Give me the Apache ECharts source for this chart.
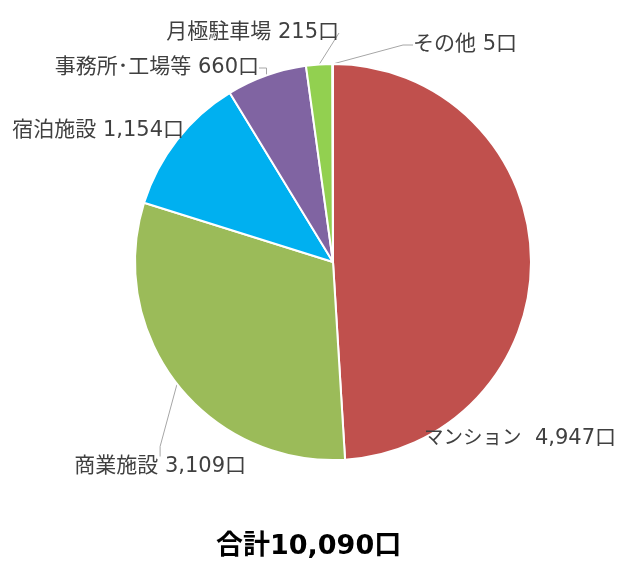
<!DOCTYPE html>
<html><head><meta charset="utf-8">
<script src="https://cdn.jsdelivr.net/npm/echarts@6/dist/echarts.min.js"></script>
<style>html,body{margin:0;padding:0;background:#fff}#c{width:628px;height:566px}</style>
</head><body><div id="c"></div>
<script>
const categories = ['マンション', '商業施設', '宿泊施設', '事務所・工場等', '月極駐車場', 'その他'];
const values = [4947, 3109, 1154, 660, 215, 5];
const colors = ['#C0504D', '#9BBB59', '#00B0F0', '#8064A2', '#92D050', '#F79646'];
const labelNames = ['マンション', '商業施設', '宿泊施設', '事務所･工場等', '月極駐車場', 'その他'];
const labelValues = ['4,947口', '3,109口', '1,154口', '660口', '215口', '5口'];
const totalText = '合計10,090口';

const showLine = [false, true, false, true, true, true];
// label anchor placements (layout only)
const labelPos = [
  {x: 616, y: 439, align: 'right'},
  {x: 246, y: 467, align: 'right'},
  {x: 184, y: 131, align: 'right'},
  {x: 259, y: 68, align: 'right'},
  {x: 339, y: 33, align: 'right'},
  {x: 413, y: 45, align: 'left'}
];
const FONT = 'DejaVu Sans, Noto Sans CJK JP';

const chart = echarts.init(document.getElementById('c'));
chart.setOption({
  animation: false,
  title: {
    text: totalText, left: 211, top: 528,
    textStyle: {fontSize: 27, fontWeight: 'bold', color: '#000', fontFamily: FONT}
  },
  series: [{
    type: 'pie',
    center: [333, 262],
    radius: 198,
    startAngle: 90,
    clockwise: true,
    avoidLabelOverlap: false,
    minAngle: 0,
    itemStyle: {borderColor: '#fff', borderWidth: 2},
    label: {
      show: true, position: 'outside',
      fontSize: 21, color: '#404040', fontFamily: FONT,
      formatter: p => p.dataIndex === 0
        ? '{k|' + labelNames[0] + '}  ' + labelValues[0]
        : labelNames[p.dataIndex] + ' ' + labelValues[p.dataIndex],
      rich: {k: {fontSize: 19.5, color: '#404040', fontFamily: FONT}}
    },
    labelLine: {show: true, length: 10, length2: 10, lineStyle: {color: '#A6A6A6', width: 1}},
    labelLayout: p => ({x: labelPos[p.dataIndex].x, y: labelPos[p.dataIndex].y, align: labelPos[p.dataIndex].align, verticalAlign: 'middle'}),
    data: categories.map((c, i) => ({
      name: c, value: values[i],
      itemStyle: {color: colors[i]},
      labelLine: {show: showLine[i]}
    }))
  }]
});
</script></body></html>
